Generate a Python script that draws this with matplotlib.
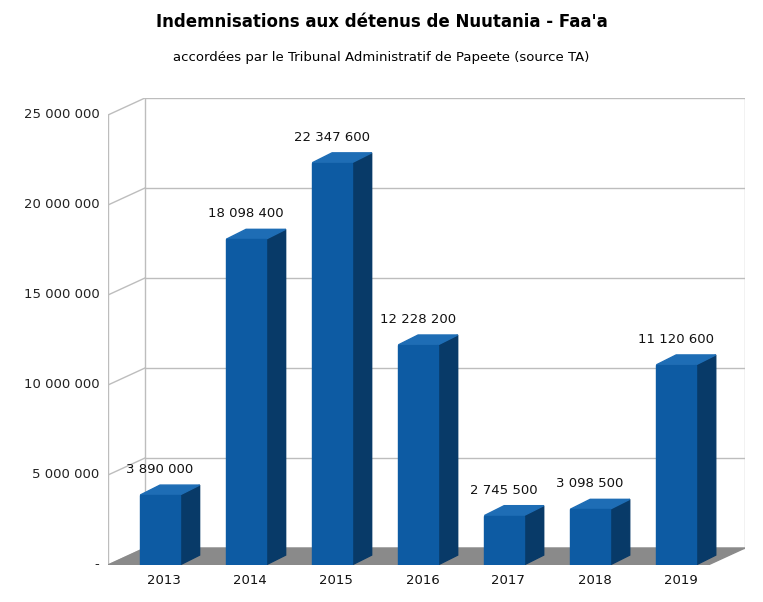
import matplotlib.pyplot as plt
from matplotlib.patches import Polygon

years = ["2013", "2014", "2015", "2016", "2017", "2018", "2019"]
amounts = [3890000, 18098400, 22347600, 12228200, 2745500, 3098500, 11120600]
yticks = [0, 5000000, 10000000, 15000000, 20000000, 25000000]


def fmt(v):
    return "-" if v == 0 else f"{v:,}".replace(",", " ")


fig = plt.figure(figsize=(7.63, 6.02), dpi=100)
ax = fig.add_axes([108 / 763, 1 - 565 / 602, 637 / 763, (565 - 98) / 602])
x0, x1 = -0.605, 6.80
dx, dy = 0.43, 944000       # depth of the box
bdx, bdy = 0.23, 550000     # depth of the bars
hw = 0.23
ax.set_xlim(x0, x1)
ax.set_ylim(0, 25000000 + dy)
ax.axis("off")

grid = "#bdbdbd"
# floor
ax.add_patch(Polygon([(x0, 0), (x1 - dx, 0), (x1, dy), (x0 + dx, dy)],
                     closed=True, color="#8a8a8a", zorder=1))
# back wall grid and left wall diagonals
for v in yticks:
    ax.plot([x0 + dx, x1], [v + dy, v + dy], color=grid, lw=1, zorder=0)
    ax.plot([x0, x0 + dx], [v, v + dy], color=grid, lw=1, zorder=0)
    ax.text(x0 - 0.1, v, fmt(v), ha="right", va="center", fontsize=9.5,
            color="#222222")
ax.plot([x0 + dx, x0 + dx], [dy, 25000000 + dy], color=grid, lw=1, zorder=0)
ax.plot([x1, x1], [dy, 25000000 + dy], color=grid, lw=1, zorder=0)
ax.plot([x0, x0], [0, 25000000], color=grid, lw=1, zorder=0)

for i, (yr, v) in enumerate(zip(years, amounts)):
    l, r = i - hw, i + hw
    ax.add_patch(Polygon([(r, 0), (r + bdx, bdy), (r + bdx, v + bdy), (r, v)],
                         closed=True, color="#083a68", zorder=3))
    ax.add_patch(Polygon([(l, v), (l + bdx, v + bdy), (r + bdx, v + bdy), (r, v)],
                         closed=True, color="#1e6db5", zorder=3))
    ax.add_patch(Polygon([(l, 0), (r, 0), (r, v), (l, v)],
                         closed=True, color="#0d5ba3", zorder=4))
    ax.text(i, v + bdy + 500000, fmt(v), ha="center", va="bottom", fontsize=9.5,
            color="#111111", zorder=5)
    ax.text(i + 0.05, -500000, yr, ha="center", va="top", fontsize=9.5,
            color="#111111")

fig.text(0.5, 1 - 22 / 602, "Indemnisations aux détenus de Nuutania - Faa'a",
         ha="center", va="center", fontsize=12, fontweight="bold")
fig.text(0.5, 1 - 58 / 602,
         "accordées par le Tribunal Administratif de Papeete (source TA)",
         ha="center", va="center", fontsize=9.5)

fig.savefig("out.png", dpi=100)
